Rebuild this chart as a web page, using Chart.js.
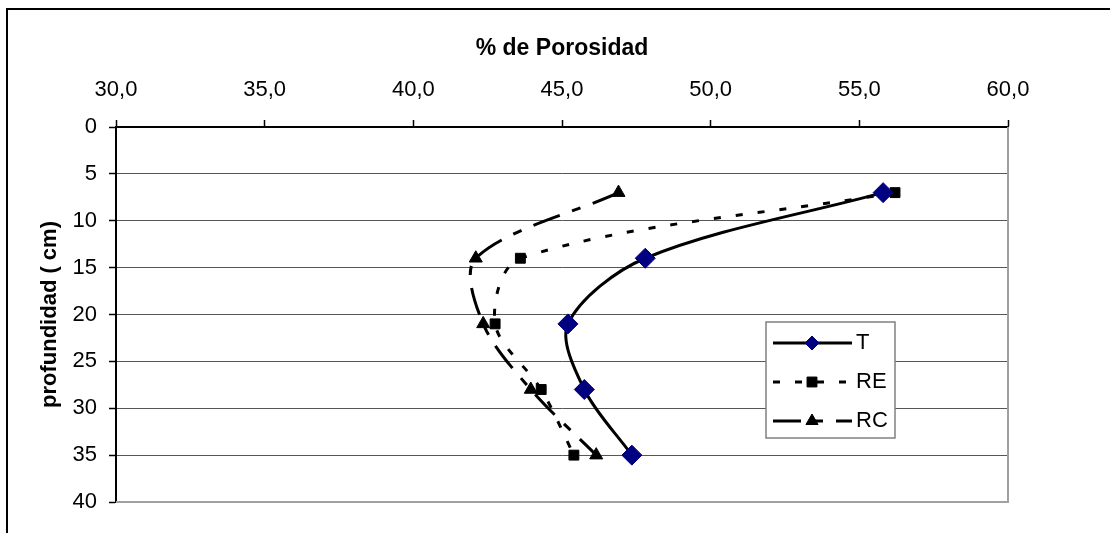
<!DOCTYPE html>
<html>
<head>
<meta charset="utf-8">
<script src="https://cdn.jsdelivr.net/npm/chart.js@4.4.1/dist/chart.umd.min.js"></script>
<style>
html,body{margin:0;padding:0;background:#fff;}
#wrap{position:relative;width:1110px;height:533px;overflow:hidden;}
canvas{display:block;}
</style>
</head>
<body>
<div id="wrap"><canvas id="c" width="1110" height="533"></canvas></div>
<script>
// ---- data ----
const depths = [7, 14, 21, 28, 35];
const seriesT  = [55.8, 47.8, 45.2, 45.75, 47.35];
const seriesRE = [56.2, 43.6, 42.75, 44.3, 45.4];
const seriesRC = [46.9, 42.1, 42.35, 43.95, 46.15];
const seriesNames = ['T', 'RE', 'RC'];
const xTickValues = [30, 35, 40, 45, 50, 55, 60];
const xTickLabels = ['30,0', '35,0', '40,0', '45,0', '50,0', '55,0', '60,0'];
const yTickValues = [0, 5, 10, 15, 20, 25, 30, 35, 40];
const yTickLabels = ['0', '5', '10', '15', '20', '25', '30', '35', '40'];
const xTitle = '% de Porosidad';
const yTitle = 'profundidad ( cm)';

const FONT = "'Liberation Sans', Arial, Helvetica, sans-serif";
const toPts = arr => arr.map((v, i) => ({x: v, y: depths[i]}));

const framePlugin = {
  id: 'frame',
  beforeDraw(chart) {
    const ctx = chart.ctx;
    ctx.save();
    ctx.fillStyle = '#fff';
    ctx.fillRect(0, 0, chart.width, chart.height);
    ctx.strokeStyle = '#000';
    ctx.lineWidth = 2;
    ctx.strokeRect(7, 9, 1300, 800);
    ctx.restore();
  },
  beforeDatasetsDraw(chart) {
    const {ctx, chartArea: a} = chart;
    ctx.save();
    ctx.strokeStyle = '#a0a0a0';
    ctx.lineWidth = 2;
    ctx.beginPath();
    ctx.moveTo(a.right, a.top);
    ctx.lineTo(a.right, a.bottom);
    ctx.lineTo(a.left, a.bottom);
    ctx.stroke();
    ctx.restore();
  }
};

function marker(ctx, style, r, x, y, fill, stroke) {
  ctx.save();
  ctx.fillStyle = fill; ctx.strokeStyle = stroke; ctx.lineWidth = 1;
  ctx.setLineDash([]);
  Chart.helpers.drawPoint(ctx, {pointStyle: style, radius: r, borderWidth: 1, rotation: 0}, x, y);
  ctx.restore();
}

const legendPlugin = {
  id: 'boxLegend',
  afterDraw(chart) {
    const ctx = chart.ctx;
    const bx = 766, by = 322, bw = 129, bh = 116;
    ctx.save();
    ctx.fillStyle = '#fff';
    ctx.fillRect(bx, by, bw, bh);
    ctx.strokeStyle = '#808080';
    ctx.lineWidth = 1.5;
    ctx.strokeRect(bx, by, bw, bh);
    const rows = [343, 382, 421];
    chart.data.datasets.forEach((ds, i) => {
      const y = rows[i];
      ctx.save();
      ctx.strokeStyle = ds.borderColor;
      ctx.lineWidth = ds.borderWidth;
      ctx.setLineDash(ds.borderDash || []);
      ctx.beginPath();
      ctx.moveTo(773, y);
      ctx.lineTo(852, y);
      ctx.stroke();
      ctx.restore();
      marker(ctx, ds.pointStyle, 7, 812, y, ds.pointBackgroundColor, ds.pointBorderColor);
      ctx.fillStyle = '#000';
      ctx.font = '22px ' + FONT;
      ctx.textAlign = 'left';
      ctx.textBaseline = 'middle';
      ctx.fillText(ds.label, 856, y);
    });
    ctx.restore();
  }
};

new Chart(document.getElementById('c'), {
  type: 'scatter',
  data: {
    datasets: [
      {
        label: seriesNames[0], data: toPts(seriesT), showLine: true,
        borderColor: '#000', borderWidth: 3, tension: 0.32,
        pointStyle: 'rectRot', pointRadius: 10, pointHoverRadius: 10,
        pointBackgroundColor: '#000080', pointBorderColor: '#000080', pointBorderWidth: 1
      },
      {
        label: seriesNames[1], data: toPts(seriesRE), showLine: true,
        borderColor: '#000', borderWidth: 3, tension: 0.32, borderDash: [7, 15],
        pointStyle: 'rect', pointRadius: 7, pointHoverRadius: 7,
        pointBackgroundColor: '#000', pointBorderColor: '#000', pointBorderWidth: 1
      },
      {
        label: seriesNames[2], data: toPts(seriesRC), showLine: true,
        borderColor: '#000', borderWidth: 3, tension: 0.32, borderDash: [28, 13, 9, 13],
        pointStyle: 'triangle', pointRadius: 7.5, pointHoverRadius: 7.5,
        pointBackgroundColor: '#000', pointBorderColor: '#000', pointBorderWidth: 1
      }
    ]
  },
  options: {
    responsive: false,
    animation: false,
    devicePixelRatio: 1,
    layout: {padding: {left: 0, top: 0, right: 102, bottom: 31}},
    plugins: {legend: {display: false}, tooltip: {enabled: false}},
    scales: {
      x: {
        type: 'linear', position: 'top', min: 30, max: 60,
        afterBuildTicks: s => { s.ticks = xTickValues.map(v => ({value: v})); },
        afterFit: s => { s.height = 127; },
        ticks: {
          autoSkip: false, maxRotation: 0, padding: 17, color: '#000',
          font: {family: FONT, size: 22, lineHeight: 1.2},
          callback: v => xTickLabels[xTickValues.indexOf(v)]
        },
        grid: {drawOnChartArea: false, drawTicks: true, tickLength: 7, tickColor: '#000', tickWidth: 1.5},
        border: {display: true, color: '#000', width: 2},
        title: {display: true, text: xTitle, color: '#000', padding: {top: 35, bottom: 0},
          font: {family: FONT, size: 23, weight: 'bold', lineHeight: 1.2}}
      },
      y: {
        type: 'linear', position: 'left', min: 0, max: 40, reverse: true,
        afterBuildTicks: s => { s.ticks = yTickValues.map(v => ({value: v})); },
        afterFit: s => { s.width = 116; },
        ticks: {
          autoSkip: false, padding: 12, color: '#000',
          font: {family: FONT, size: 22, lineHeight: 1.2},
          callback: v => yTickLabels[yTickValues.indexOf(v)]
        },
        grid: {
          drawTicks: true, tickLength: 7, tickColor: '#000', tickWidth: 1.5,
          color: c => (c.tick && c.tick.value === 40) ? '#a0a0a0' : (c.tick && c.tick.value === 0 ? '#000' : '#555'),
          lineWidth: 1
        },
        border: {display: true, color: '#000', width: 2},
        title: {display: true, text: yTitle, color: '#000', padding: {top: 37, bottom: 0},
          font: {family: FONT, size: 22, weight: 'bold', lineHeight: 1.2}}
      }
    }
  },
  plugins: [framePlugin, legendPlugin]
});
</script>
</body>
</html>
